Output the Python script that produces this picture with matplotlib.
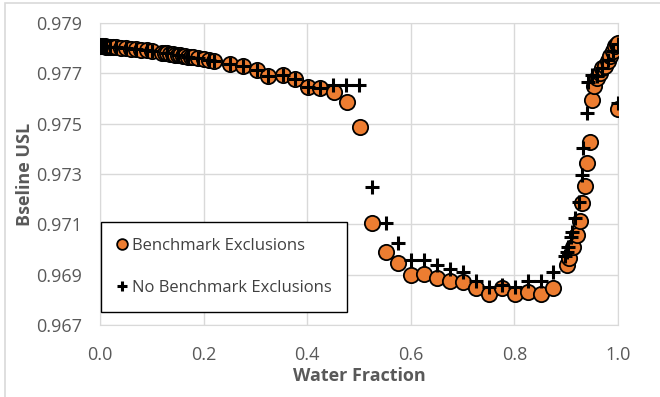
import numpy as np
import matplotlib
matplotlib.use('Agg')
import matplotlib.pyplot as plt
from matplotlib.patches import Rectangle

# Benchmark Exclusions (orange circles)
x_excl = [0.000, 0.003, 0.006, 0.009, 0.012, 0.015, 0.020, 0.025, 0.030, 0.040,
          0.050, 0.060, 0.070, 0.080, 0.090, 0.100, 0.120, 0.125, 0.130, 0.135,
          0.140, 0.145, 0.150, 0.155, 0.160, 0.165, 0.170, 0.175, 0.180, 0.190,
          0.200, 0.210, 0.220,
          0.251, 0.276, 0.303, 0.324, 0.353, 0.376, 0.402, 0.425, 0.452, 0.477,
          0.502, 0.525, 0.552, 0.575, 0.600, 0.625, 0.651, 0.676, 0.701, 0.726,
          0.751, 0.776, 0.801, 0.826, 0.851, 0.875,
          0.902, 0.905, 0.913, 0.921, 0.927, 0.931, 0.936, 0.940, 0.946, 0.950,
          0.954, 0.960, 0.965, 0.970, 0.975, 0.980, 0.985, 0.990, 0.995, 0.998,
          1.000, 1.000]
y_excl = [0.97808, 0.97808, 0.97807, 0.97807, 0.97806, 0.97806, 0.97805, 0.97804, 0.97803, 0.97802,
          0.97800, 0.97798, 0.97796, 0.97794, 0.97792, 0.97790, 0.97782, 0.97780, 0.97779, 0.97777,
          0.97776, 0.97774, 0.97772, 0.97771, 0.97769, 0.97768, 0.97766, 0.97765, 0.97763, 0.97760,
          0.97757, 0.97752, 0.97748,
          0.97737, 0.97729, 0.97713, 0.97689, 0.97693, 0.97677, 0.97646, 0.97642, 0.97626, 0.97586,
          0.97487, 0.97105, 0.96990, 0.96946, 0.96899, 0.96903, 0.96887, 0.96875, 0.96871, 0.96847,
          0.96823, 0.96847, 0.96823, 0.96831, 0.96823, 0.96847,
          0.96938, 0.96966, 0.97010, 0.97058, 0.97113, 0.97185, 0.97252, 0.97344, 0.97427, 0.97594,
          0.97650, 0.97680, 0.97700, 0.97720, 0.97730, 0.97750, 0.97770, 0.97790, 0.97810, 0.97815,
          0.97821, 0.97558]

# No Benchmark Exclusions (black crosses)
x_noexcl = [0.000, 0.006, 0.012, 0.020, 0.030, 0.050, 0.070, 0.090, 0.100, 0.130,
            0.150, 0.170, 0.190, 0.210, 0.220,
            0.251, 0.276, 0.303, 0.324, 0.353, 0.376, 0.402, 0.425, 0.450, 0.475,
            0.500, 0.525, 0.552, 0.575, 0.600, 0.625, 0.651, 0.676, 0.701, 0.726,
            0.751, 0.776, 0.801, 0.826, 0.851, 0.875,
            0.898, 0.902, 0.903, 0.909, 0.911, 0.917, 0.925, 0.931, 0.932, 0.940,
            0.942, 0.950, 0.960, 0.970, 0.980, 0.990, 1.000, 1.000]
y_noexcl = [0.97808, 0.97807, 0.97806, 0.97805, 0.97803, 0.97800, 0.97796, 0.97792, 0.97790, 0.97779,
            0.97772, 0.97766, 0.97760, 0.97752, 0.97748,
            0.97737, 0.97729, 0.97713, 0.97689, 0.97693, 0.97677, 0.97646, 0.97642, 0.97654, 0.97654,
            0.97654, 0.97248, 0.97105, 0.97026, 0.96958, 0.96958, 0.96938, 0.96922, 0.96910, 0.96875,
            0.96851, 0.96859, 0.96851, 0.96875, 0.96875, 0.96910,
            0.96974, 0.96990, 0.97010, 0.97050, 0.97069, 0.97125, 0.97189, 0.97296, 0.97403, 0.97542,
            0.97666, 0.97693, 0.97690, 0.97722, 0.97752, 0.97790, 0.97815, 0.97582]

xticks = [0.0, 0.2, 0.4, 0.6, 0.8, 1.0]
yticks = [0.967, 0.969, 0.971, 0.973, 0.975, 0.977, 0.979]

plt.rcParams['font.family'] = ['Open Sans', 'DejaVu Sans']

fig = plt.figure(figsize=(6.6, 3.97), dpi=100)
fig.patches.append(Rectangle((5 / 660, -0.1), 1.2, (397 - 3) / 397 + 0.1,
                             transform=fig.transFigure, fill=False,
                             edgecolor='#d9d9d9', linewidth=1.2))
ax = fig.add_axes([100 / 660, 72 / 397, 518 / 660, 302 / 397])

ax.plot(x_excl, y_excl, 'o', color='#ed7d31', markeredgecolor='black',
        markeredgewidth=1.3, markersize=11, label='Benchmark Exclusions', zorder=3)
ax.plot(x_noexcl, y_noexcl, '+', color='black', markeredgewidth=2.2,
        markersize=10, label='No Benchmark Exclusions', zorder=4)

ax.set_xlim(0, 1)
ax.set_ylim(0.967, 0.979)
ax.set_xticks(xticks)
ax.set_yticks(yticks)
ax.set_xticklabels(['%.1f' % v for v in xticks])
ax.set_yticklabels(['%.3f' % v for v in yticks])
ax.tick_params(axis='both', length=0, labelsize=13, colors='#595959')
ax.tick_params(axis='x', pad=15)
ax.tick_params(axis='y', pad=13)
ax.grid(True, color='#d9d9d9', linewidth=1)
ax.set_axisbelow(True)
for s in ax.spines.values():
    s.set_color('#d9d9d9')

ax.set_xlabel('Water Fraction', fontsize=13, fontweight='bold', color='#595959', labelpad=2)
ax.set_ylabel('Bseline USL', fontsize=13, fontweight='bold', color='#595959', labelpad=1)

leg = ax.legend(loc='upper left', bbox_to_anchor=(0.002, 0.341), fancybox=False,
                edgecolor='black', framealpha=1, fontsize=12, labelspacing=1.55,
                handlelength=0.6, handletextpad=0.3, borderpad=0.95,
                markerscale=0.7, borderaxespad=0)
leg.get_frame().set_linewidth(1)
for t in leg.get_texts():
    t.set_color('#404040')

fig.savefig('out.png', dpi=100)
